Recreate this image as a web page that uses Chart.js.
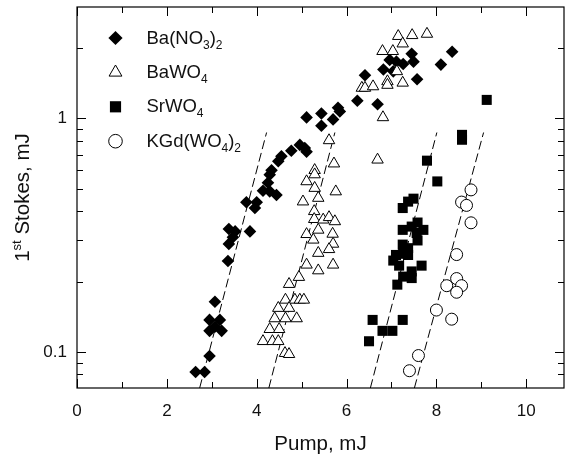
<!DOCTYPE html>
<html>
<head>
<meta charset="utf-8">
<script src="https://cdn.jsdelivr.net/npm/chart.js@4.4.1/dist/chart.umd.min.js"></script>
<style>
  html, body { margin: 0; padding: 0; background: #fff; }
</style>
</head>
<body>
<canvas id="chart" width="566" height="455"></canvas>
<script>
// [pump mJ, 1st Stokes mJ]
const baNO3 = [
  [2.64, 0.082], [2.84, 0.082], [2.95, 0.096], [2.95, 0.123], [3.22, 0.123],
  [3.07, 0.128], [2.95, 0.137], [3.18, 0.137], [3.07, 0.164], [3.36, 0.245],
  [3.38, 0.29], [3.38, 0.336], [3.52, 0.328], [3.47, 0.31], [3.85, 0.328],
  [3.77, 0.437], [4.0, 0.437], [3.96, 0.413], [4.14, 0.49], [4.29, 0.487],
  [4.44, 0.47], [4.25, 0.53], [4.29, 0.574], [4.33, 0.6], [4.48, 0.655],
  [4.55, 0.688], [4.77, 0.727], [4.96, 0.77], [5.07, 0.746], [5.11, 0.72],
  [5.11, 1.01], [5.44, 1.05], [5.44, 0.93], [5.7, 0.99], [5.81, 1.11],
  [5.85, 1.07], [6.24, 1.19], [6.69, 1.15], [6.41, 1.53], [6.82, 1.62],
  [6.96, 1.78], [7.04, 1.59], [7.11, 1.75], [7.26, 1.71], [7.45, 1.89],
  [7.49, 1.75], [7.57, 1.47], [8.1, 1.7], [8.35, 1.93]
];
const baWO4 = [
  [7.15, 2.25], [7.46, 2.27], [7.79, 2.3], [7.25, 2.09], [6.8, 1.94],
  [7.03, 1.94], [7.12, 1.59], [6.91, 1.44], [6.91, 1.39], [7.25, 1.42],
  [6.34, 1.35], [6.41, 1.35], [6.59, 1.37], [6.81, 1.01], [5.61, 0.805],
  [6.69, 0.665], [5.72, 0.64], [5.29, 0.6], [5.29, 0.575], [5.11, 0.537],
  [5.29, 0.503], [5.76, 0.486], [5.03, 0.44], [5.37, 0.456], [5.28, 0.4],
  [5.28, 0.37], [5.48, 0.368], [5.61, 0.377], [5.74, 0.362], [5.37, 0.333],
  [5.11, 0.319], [5.69, 0.32], [5.26, 0.302], [5.7, 0.29], [5.61, 0.275],
  [5.37, 0.265], [5.11, 0.236], [5.37, 0.223], [5.7, 0.236], [4.94, 0.209],
  [4.72, 0.195], [4.64, 0.167], [4.85, 0.167], [4.96, 0.167], [5.05, 0.167],
  [4.48, 0.154], [4.72, 0.154], [4.4, 0.139], [4.64, 0.139], [4.89, 0.139],
  [4.29, 0.125], [4.5, 0.125], [4.14, 0.111], [4.35, 0.111], [4.48, 0.111],
  [4.63, 0.0987], [4.72, 0.0977]
];
const srWO4 = [
  [9.12, 1.2], [8.57, 0.85], [8.57, 0.81], [7.79, 0.659], [8.02, 0.537],
  [7.49, 0.453], [7.37, 0.44], [7.25, 0.413], [7.58, 0.358], [7.71, 0.333],
  [7.25, 0.333], [7.45, 0.344], [7.56, 0.323], [7.58, 0.3], [7.25, 0.288],
  [7.37, 0.278], [7.26, 0.263], [7.37, 0.26], [7.1, 0.26], [7.04, 0.246],
  [7.17, 0.234], [7.67, 0.234], [7.45, 0.221], [7.26, 0.21], [7.45, 0.207],
  [7.13, 0.194], [6.58, 0.137], [7.25, 0.137], [6.8, 0.123], [7.02, 0.123],
  [6.5, 0.111]
];
const kgdWO4 = [
  [8.77, 0.494], [8.56, 0.438], [8.67, 0.424], [8.77, 0.357], [8.45, 0.261],
  [8.45, 0.206], [8.23, 0.192], [8.56, 0.192], [8.45, 0.18], [8.0, 0.151],
  [8.34, 0.138], [7.6, 0.0964], [7.4, 0.083]
];

// threshold fits: pump at the low and high end of each dashed line
const fitStokes = [0.07, 0.87];
const fitPumpLow = [2.73, 4.27, 6.53, 7.51];
const fitPumpHigh = [4.22, 5.74, 8.01, 9.05];

const pumpRange = [0, 10.84];
const stokesRange = [0.07, 3];
const xTicks = [0, 2, 4, 6, 8, 10];
const xMinor = [1, 3, 5, 7, 9];
const yTicks = [0.1, 1];
const yMinor = [0.08, 0.09, 0.2, 0.3, 0.4, 0.5, 0.6, 0.7, 0.8, 0.9, 2];

const legendLabels = [
  [['Ba(NO'], ['3', 'sub'], [')'], ['2', 'sub']],
  [['BaWO'], ['4', 'sub']],
  [['SrWO'], ['4', 'sub']],
  [['KGd(WO'], ['4', 'sub'], [')'], ['2', 'sub']]
];
const yTitle = [['1'], ['st', 'sup'], [' Stokes, mJ']];
const xTitle = 'Pump, mJ';

const FONT = '"Liberation Sans", Arial, sans-serif';
const INK = '#111';

const toPoints = arr => arr.map(p => ({ x: p[0], y: p[1] }));

function marker(label, data, style, radius, fill, order) {
  return {
    label, data: toPoints(data), order,
    pointStyle: style, pointRadius: radius, pointHoverRadius: radius,
    backgroundColor: fill, borderColor: '#000',
    borderWidth: fill === '#000' ? 0 : 1
  };
}

const datasets = [
  marker('Ba(NO3)2', baNO3, 'rectRot', 6.3, '#000', 3),
  marker('BaWO4', baWO4, 'triangle', 6.6, '#fff', 1),
  marker('SrWO4', srWO4, 'rect', 7.1, '#000', 2),
  marker('KGd(WO4)2', kgdWO4, 'circle', 6, '#fff', 0)
];
fitPumpLow.forEach((x0, i) => {
  datasets.push({
    type: 'line', label: 'fit' + i, order: 9,
    data: [{ x: x0, y: fitStokes[0] }, { x: fitPumpHigh[i], y: fitStokes[1] }],
    borderColor: '#000', borderWidth: 1, borderDash: [9, 4],
    pointRadius: 0, fill: false
  });
});

// text with sub/superscript pieces
function richWidth(ctx, parts, size, small) {
  let w = 0;
  parts.forEach(([t, kind]) => {
    ctx.font = (kind ? small : size) + 'px ' + FONT;
    w += ctx.measureText(t).width;
  });
  return w;
}
function drawRich(ctx, parts, x, y, size, small) {
  parts.forEach(([t, kind]) => {
    ctx.font = (kind ? small : size) + 'px ' + FONT;
    const dy = kind === 'sub' ? 5 : kind === 'sup' ? -8 : 0;
    ctx.fillText(t, x, y + dy);
    x += ctx.measureText(t).width;
  });
}

// keep the plot box where the layout padding puts it
const noLabelPadding = s => {
  s.paddingTop = s.paddingBottom = s.paddingLeft = s.paddingRight = 0;
};

const framePlugin = {
  id: 'frame',
  afterDatasetsDraw(chart) {
    const { ctx, chartArea: a, scales: { x, y } } = chart;
    ctx.save();
    ctx.strokeStyle = '#000';
    ctx.lineWidth = 1.2;
    ctx.strokeRect(a.left, a.top, a.right - a.left, a.bottom - a.top);

    ctx.lineWidth = 1;
    ctx.beginPath();
    const xTick = (v, len) => {
      const px = Math.round(x.getPixelForValue(v)) + 0.5;
      ctx.moveTo(px, a.bottom); ctx.lineTo(px, a.bottom - len);
      ctx.moveTo(px, a.top); ctx.lineTo(px, a.top + len);
    };
    const yTick = (v, len) => {
      const py = Math.round(y.getPixelForValue(v)) + 0.5;
      ctx.moveTo(a.left, py); ctx.lineTo(a.left + len, py);
      ctx.moveTo(a.right, py); ctx.lineTo(a.right - len, py);
    };
    xTicks.forEach(v => xTick(v, 9));
    xMinor.forEach(v => xTick(v, 6));
    yTicks.forEach(v => yTick(v, 9));
    yMinor.forEach(v => yTick(v, 6));
    ctx.stroke();

    // legend
    const rowTop = 43.5, rowStep = 34.4;
    legendLabels.forEach((parts, i) => {
      const ds = chart.data.datasets[i];
      const base = rowTop + i * rowStep;
      ctx.fillStyle = ds.backgroundColor;
      ctx.strokeStyle = '#000';
      ctx.lineWidth = ds.borderWidth;
      Chart.helpers.drawPoint(ctx, {
        pointStyle: ds.pointStyle, radius: ds.pointRadius + 0.8,
        borderWidth: ds.borderWidth, rotation: 0
      }, 115.5, base - 5.5);
      ctx.fillStyle = INK;
      ctx.textBaseline = 'alphabetic';
      ctx.textAlign = 'left';
      drawRich(ctx, parts, 146.5, base, 18.5, 12);
    });

    // axis titles
    ctx.fillStyle = INK;
    ctx.font = '20.5px ' + FONT;
    ctx.textAlign = 'center';
    ctx.fillText(xTitle, (a.left + a.right) / 2, 450);

    ctx.translate(29, (a.top + a.bottom) / 2);
    ctx.rotate(-Math.PI / 2);
    ctx.textAlign = 'left';
    const w = richWidth(ctx, yTitle, 20.5, 13);
    drawRich(ctx, yTitle, -w / 2, 0, 20.5, 13);
    ctx.restore();
  }
};

new Chart(document.getElementById('chart'), {
  type: 'scatter',
  data: { datasets },
  options: {
    responsive: false,
    devicePixelRatio: 1,
    animation: false,
    layout: { autoPadding: false, padding: { top: 7, right: 2, left: 0, bottom: 0 } },
    plugins: { legend: { display: false }, tooltip: { enabled: false } },
    scales: {
      x: {
        type: 'linear', min: pumpRange[0], max: pumpRange[1],
        grid: { display: false, drawTicks: false }, border: { display: false },
        afterBuildTicks: s => { s.ticks = xTicks.map(v => ({ value: v })); },
        afterFit: s => { s.height = 67; noLabelPadding(s); },
        ticks: { padding: 13, color: INK, font: { size: 17, family: FONT }, callback: v => String(v) }
      },
      y: {
        type: 'logarithmic', min: stokesRange[0], max: stokesRange[1],
        grid: { display: false, drawTicks: false }, border: { display: false },
        afterBuildTicks: s => { s.ticks = yTicks.map(v => ({ value: v })); },
        afterFit: s => { s.width = 77; noLabelPadding(s); },
        ticks: { padding: 10, color: INK, font: { size: 17, family: FONT }, callback: v => String(v) }
      }
    }
  },
  plugins: [framePlugin]
});
</script>
</body>
</html>
